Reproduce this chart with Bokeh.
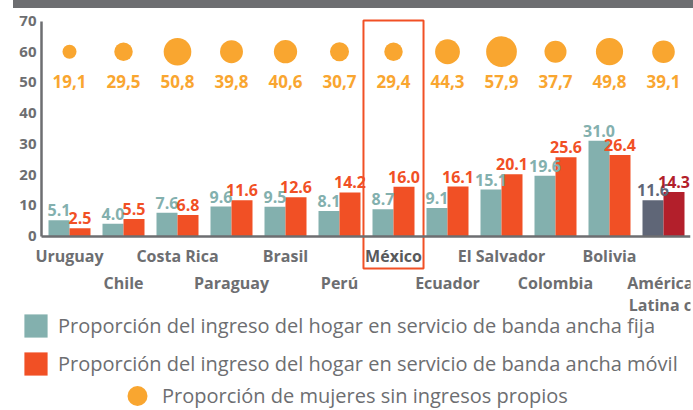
from bokeh.plotting import figure
from bokeh.models import (Range1d, ColumnDataSource, Legend, LegendItem, Div,
                          FixedTicker, LinearAxis)
from bokeh.layouts import column
from bokeh.embed import file_html
from bokeh.resources import INLINE
from bokeh.core.properties import value

# ---------------- data ----------------
countries = ["Uruguay", "Chile", "Costa Rica", "Paraguay", "Brasil", "Perú",
             "México", "Ecuador", "El Salvador", "Colombia", "Bolivia",
             "América\nLatina c"]
fixed_broadband = [5.1, 4.0, 7.6, 9.6, 9.5, 8.1, 8.7, 9.1, 15.1, 19.6, 31.0, 11.6]
mobile_broadband = [2.5, 5.5, 6.8, 11.6, 12.6, 14.2, 16.0, 16.1, 20.1, 25.6, 26.4, 14.3]
women_no_income = [19.1, 29.5, 50.8, 39.8, 40.6, 30.7, 29.4, 44.3, 57.9, 37.7, 49.8, 39.1]
y_ticks = [0, 10, 20, 30, 40, 50, 60, 70]
highlight = "México"

legend_labels = [
    "Proporción del ingreso del hogar en servicio de banda ancha fija",
    "Proporción del ingreso del hogar en servicio de banda ancha móvil",
    "Proporción de mujeres sin ingresos propios",
]

# ---------------- styles ----------------
TEAL = "#83b0ae"
RED = "#f15025"
ORANGE = "#f9a630"
SLATE = "#5f6677"
CRIMSON = "#b31f2b"
GREY = "#6d6e71"
FONT = "Open Sans"

n = len(countries)
idx = list(range(n))
bw = 21 / 54
circle_level = 60
x_left = -28 / 54      # left edge of the plotting area (where the y axis sits)

fixed_colors = [TEAL] * (n - 1) + [SLATE]
mobile_colors = [RED] * (n - 1) + [CRIMSON]

src_fixed = ColumnDataSource(dict(
    x=[i - bw / 2 for i in idx], top=fixed_broadband, color=fixed_colors,
    label=[f"{v:.1f}" for v in fixed_broadband]))
src_mobile = ColumnDataSource(dict(
    x=[i + bw / 2 for i in idx], top=mobile_broadband, color=mobile_colors,
    label=[f"{v:.1f}" for v in mobile_broadband]))
src_women = ColumnDataSource(dict(
    x=idx, y=[circle_level] * n,
    size=[5.8 + 0.43 * v for v in women_no_income],
    label=[f"{v:.1f}".replace(".", ",") for v in women_no_income]))

px_per_unit = 215 / 70
y_end = (235.5 - 8) / px_per_unit
y_start = -(410 - 235.5) / px_per_unit

p = figure(width=693, height=402, output_backend="svg", toolbar_location=None,
           x_range=Range1d(-69 / 54, 11.5), y_range=Range1d(y_start, y_end),
           x_axis_location=None, min_border_left=0, min_border_right=3,
           min_border_top=0, min_border_bottom=0)
p.outline_line_color = None
p.xgrid.visible = False
p.ygrid.visible = False
p.background_fill_color = "white"
p.border_fill_color = "white"

r_fixed = p.vbar(x="x", top="top", width=bw, bottom=0, source=src_fixed,
                 fill_color="color", line_color=None)
r_mobile = p.vbar(x="x", top="top", width=bw, bottom=0, source=src_mobile,
                  fill_color="color", line_color=None)
r_women = p.scatter(x="x", y="y", size="size", source=src_women,
                    fill_color=ORANGE, line_color=None)

for src in (src_fixed, src_mobile):
    p.text(x="x", y="top", text="label", source=src, text_color="color",
           text_font=value(FONT), text_font_style="bold", text_font_size="16px",
           text_align="center", text_baseline="alphabetic", y_offset=-10)

p.text(x="x", y="y", text="label", source=src_women, text_color=ORANGE,
       text_font=value(FONT), text_font_style="bold", text_font_size="17px",
       text_align="center", text_baseline="middle", y_offset=30)

# highlight box around México
hi = countries.index(highlight)
p.quad(left=[hi - 0.556], right=[hi + 0.556], top=[70.2], bottom=[-10.6],
       fill_color=None, line_color=RED, line_width=2)

# y axis
ya = p.yaxis[0]
ya.fixed_location = x_left
ya.ticker = FixedTicker(ticks=y_ticks)
ya.bounds = (0, 70)
ya.major_tick_line_color = None
ya.minor_tick_line_color = None
ya.major_tick_out = 0
ya.major_tick_in = 0
ya.axis_line_color = GREY
ya.axis_line_width = 2.5
ya.major_label_text_color = GREY
ya.major_label_text_font = FONT
ya.major_label_text_font_style = "bold"
ya.major_label_text_font_size = "15px"
ya.major_label_standoff = 5


def make_xaxis(ticks, standoff, color, show_line):
    ax = LinearAxis(fixed_location=0, ticker=FixedTicker(ticks=ticks),
                    major_label_overrides={i: countries[i] for i in ticks},
                    bounds=(x_left, 11.5))
    ax.major_tick_line_color = None
    ax.minor_tick_line_color = None
    ax.major_tick_out = 0
    ax.major_tick_in = 0
    ax.axis_line_color = GREY if show_line else None
    ax.axis_line_width = 2.5
    ax.major_label_standoff = standoff
    ax.major_label_text_color = color
    ax.major_label_text_font = FONT
    ax.major_label_text_font_style = "bold"
    ax.major_label_text_font_size = "16px"
    ax.major_label_text_line_height = 1.0
    p.add_layout(ax, "below")
    return ax


row1 = [i for i in idx if i % 2 == 0 and i != hi]
row2 = [i for i in idx if i % 2 == 1]
make_xaxis(row1, 9, GREY, True)
make_xaxis(row2, 36, GREY, False)
make_xaxis([hi], 9, "#58595b", False)


# legends (one per row so each row can sit where the reference puts it)
def make_legend(item, loc, gw, gh, standoff):
    leg = Legend(items=[item], location=loc, orientation="vertical",
                 glyph_width=gw, glyph_height=gh, label_standoff=standoff,
                 padding=0, margin=0, border_line_color=None,
                 background_fill_alpha=0, label_text_font=FONT,
                 label_text_font_size="20px", label_text_color=GREY)
    p.add_layout(leg)
    return leg


make_legend(LegendItem(label=legend_labels[0], renderers=[r_fixed], index=0),
            (21, 70), 29, 29, 8)
make_legend(LegendItem(label=legend_labels[1], renderers=[r_mobile], index=0),
            (21, 32), 29, 29, 8)
make_legend(LegendItem(label=legend_labels[2], renderers=[r_women], index=0),
            (112, -13), 50, 55, 0)

band = Div(text="", width=680, height=8, margin=(0, 0, 0, 13),
           styles={"background-color": "#6d6e71"})

layout = column(band, p, spacing=0)
open("out.html", "w").write(file_html(layout, INLINE))
